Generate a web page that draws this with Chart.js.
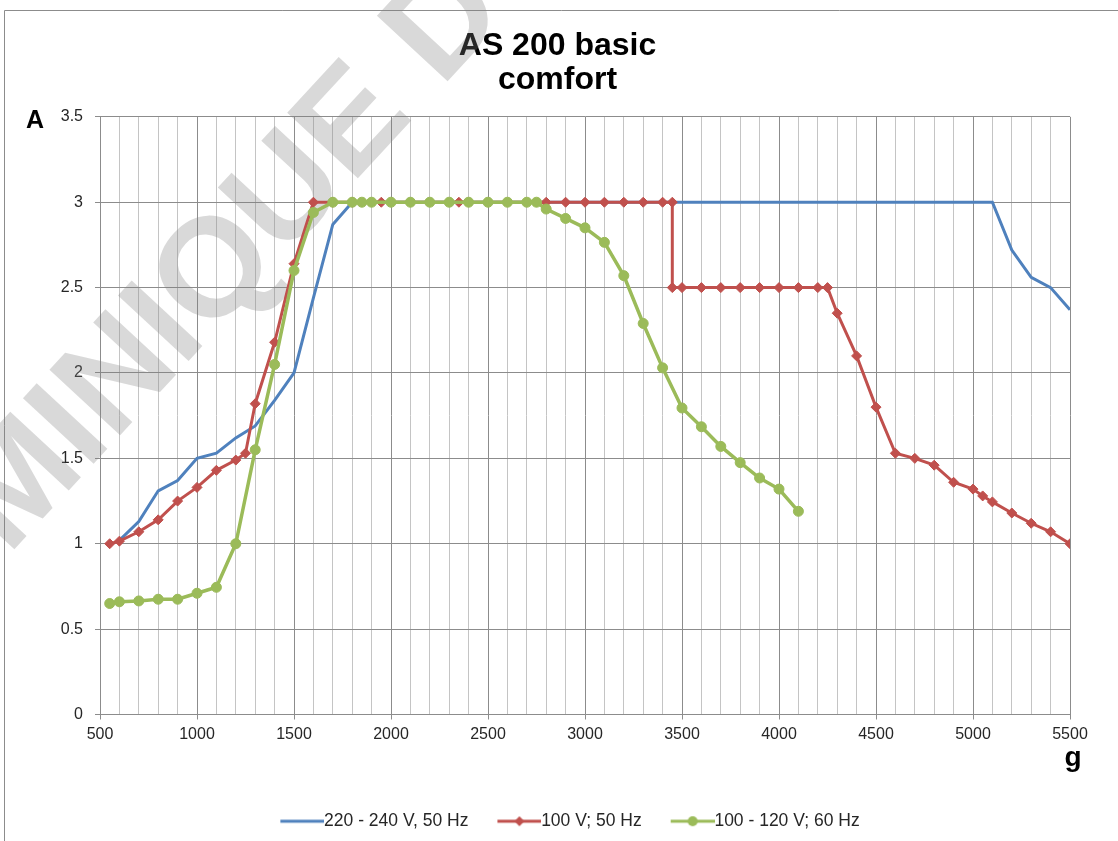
<!DOCTYPE html>
<html>
<head>
<meta charset="utf-8">
<script src="https://cdn.jsdelivr.net/npm/chart.js@4.4.0/dist/chart.umd.min.js"></script>
<style>
	html, body { margin: 0; padding: 0; background: #fff; }
	#wrap { position: relative; width: 1118px; height: 841px; }
</style>
</head>
<body>
<div id="wrap"><canvas id="chart" width="1118" height="841"></canvas></div>
<script>
// --- Data ---
const seriesNames = ["220 - 240 V, 50 Hz", "100 V; 50 Hz", "100 - 120 V; 60 Hz"];
const seriesColors = ["#4f81bd", "#c0504d", "#9bbb59"];

const euroX = [600, 700, 800, 900, 1000, 1100, 1200, 1300, 1400, 1500, 1600, 1700, 1800, 5100, 5200, 5300, 5400, 5500];
const euroY = [1.02, 1.13, 1.31, 1.37, 1.50, 1.53, 1.62, 1.69, 1.84, 2.0, 2.44, 2.87, 3.0, 3.0, 2.72, 2.56, 2.50, 2.37];

const jpX = [550, 600, 700, 800, 900, 1000, 1100, 1200, 1250, 1300, 1400, 1500, 1600, 1700, 1800, 1950, 2350,
	2800, 2900, 3000, 3100, 3200, 3300, 3400, 3450, 3450, 3500, 3600, 3700, 3800, 3900, 4000, 4100, 4200, 4250,
	4300, 4400, 4500, 4600, 4700, 4800, 4900, 5000, 5050, 5100, 5200, 5300, 5400, 5500];
const jpY = [1.0, 1.015, 1.07, 1.14, 1.25, 1.33, 1.43, 1.49, 1.53, 1.82, 2.18, 2.64, 3.0, 3.0, 3.0, 3.0, 3.0,
	3.0, 3.0, 3.0, 3.0, 3.0, 3.0, 3.0, 3.0, 2.5, 2.5, 2.5, 2.5, 2.5, 2.5, 2.5, 2.5, 2.5, 2.5,
	2.35, 2.10, 1.80, 1.53, 1.50, 1.46, 1.36, 1.32, 1.28, 1.245, 1.18, 1.12, 1.07, 1.0];

const usX = [550, 600, 700, 800, 900, 1000, 1100, 1200, 1300, 1400, 1500, 1600, 1700, 1800, 1850, 1900, 2000,
	2100, 2200, 2300, 2400, 2500, 2600, 2700, 2750, 2800, 2900, 3000, 3100, 3200, 3300, 3400, 3500, 3600,
	3700, 3800, 3900, 4000, 4100];
const usY = [0.65, 0.66, 0.665, 0.675, 0.675, 0.71, 0.745, 1.0, 1.55, 2.05, 2.60, 2.94, 3.0, 3.0, 3.0, 3.0, 3.0,
	3.0, 3.0, 3.0, 3.0, 3.0, 3.0, 3.0, 3.0, 2.96, 2.905, 2.85, 2.765, 2.57, 2.29, 2.03, 1.795, 1.685,
	1.57, 1.475, 1.385, 1.32, 1.19];

const titleLines = ["AS 200 basic", "comfort"];
const yUnit = "A";
const xUnit = "g";
const watermarkText = "DOMINIQUE D";

function toPoints(xs, ys) {
	return xs.map((x, i) => ({ x: x, y: ys[i] }));
}

// Legend pictures: line + marker, only in the right 44px so the
// wider legend box leaves a gap before each item
const legendBoxWidth = 60;
const legendFontSize = 17.5;
function legendIcon(color, marker) {
	const c = document.createElement("canvas");
	c.width = Math.round(legendBoxWidth + legendFontSize);
	c.height = 14;
	const g = c.getContext("2d");
	const x0 = c.width - 44;
	const mid = c.width - 22;
	g.strokeStyle = color;
	g.lineWidth = 3;
	g.beginPath();
	g.moveTo(x0, 7);
	g.lineTo(c.width, 7);
	g.stroke();
	g.fillStyle = color;
	if (marker === "diamond") {
		g.beginPath();
		g.moveTo(mid, 2);
		g.lineTo(mid + 5, 7);
		g.lineTo(mid, 12);
		g.lineTo(mid - 5, 7);
		g.closePath();
		g.fill();
	} else if (marker === "circle") {
		g.beginPath();
		g.arc(mid, 7, 5, 0, Math.PI * 2);
		g.fill();
	}
	return c;
}
const legendIcons = [
	legendIcon(seriesColors[0], null),
	legendIcon(seriesColors[1], "diamond"),
	legendIcon(seriesColors[2], "circle"),
];

const sansFont = "'Liberation Sans', Arial, sans-serif";

// frame, watermark and unit letters
const decorPlugin = {
	id: "decor",
	beforeDraw(chart) {
		const ctx = chart.ctx;
		ctx.save();
		ctx.fillStyle = "#fff";
		ctx.fillRect(0, 0, chart.width, chart.height);
		ctx.strokeStyle = "#8c8c8c";
		ctx.lineWidth = 1;
		ctx.beginPath();
		ctx.moveTo(4.5, chart.height);
		ctx.lineTo(4.5, 10.5);
		ctx.lineTo(chart.width, 10.5);
		ctx.stroke();
		ctx.restore();
	},
	beforeDatasetsDraw(chart) {
		// grey watermark across the plot, under the curves
		const ctx = chart.ctx;
		ctx.save();
		ctx.font = "bold 140px " + sansFont;
		ctx.fillStyle = "rgba(128,128,128,0.3)";
		ctx.translate(8, 556);
		ctx.rotate(-47.2 * Math.PI / 180);
		ctx.textBaseline = "alphabetic";
		ctx.fillText(watermarkText, -ctx.measureText("DO").width, 0);
		ctx.restore();
	},
	afterDraw(chart) {
		const ctx = chart.ctx;
		const area = chart.chartArea;
		ctx.save();
		ctx.fillStyle = "#000";
		ctx.font = "bold 25px " + sansFont;
		ctx.textAlign = "left";
		ctx.textBaseline = "alphabetic";
		ctx.fillText(yUnit, 26, area.top + 11);
		ctx.font = "bold 28px " + sansFont;
		ctx.textAlign = "center";
		ctx.fillText(xUnit, area.right + 3, 766);
		ctx.restore();
	},
};

const ctx = document.getElementById("chart");

new Chart(ctx, {
	type: "line",
	data: {
		datasets: [
			{
				label: seriesNames[0],
				data: toPoints(euroX, euroY),
				borderColor: seriesColors[0],
				backgroundColor: seriesColors[0],
				borderWidth: 3,
				pointRadius: 0,
				order: 2,
			},
			{
				label: seriesNames[1],
				data: toPoints(jpX, jpY),
				borderColor: seriesColors[1],
				backgroundColor: seriesColors[1],
				borderWidth: 3,
				pointStyle: "rectRot",
				pointRadius: 5,
				pointBorderWidth: 1,
				order: 1,
			},
			{
				label: seriesNames[2],
				data: toPoints(usX, usY),
				borderColor: seriesColors[2],
				backgroundColor: seriesColors[2],
				borderWidth: 3.5,
				pointStyle: "circle",
				pointRadius: 5,
				pointBorderWidth: 1,
				order: 0,
			},
		],
	},
	options: {
		responsive: false,
		animation: false,
		layout: {
			padding: { top: 29, left: 45, right: 48, bottom: 1 },
		},
		elements: {
			line: { tension: 0 },
		},
		plugins: {
			title: {
				display: true,
				text: titleLines,
				color: "#000",
				font: { family: sansFont, size: 32, weight: "bold", lineHeight: 1.06 },
				padding: { top: 0, bottom: 20 },
			},
			legend: {
				position: "bottom",
				labels: {
					usePointStyle: true,
					pointStyleWidth: legendBoxWidth,
					padding: 4,
					color: "#262626",
					font: { family: sansFont, size: legendFontSize },
					generateLabels: (chart) =>
						chart.data.datasets.map((ds, i) => ({
							text: ds.label,
							pointStyle: legendIcons[i],
							fillStyle: ds.borderColor,
							strokeStyle: ds.borderColor,
							lineWidth: 0,
							hidden: !chart.isDatasetVisible(i),
							datasetIndex: i,
							fontColor: "#262626",
						})),
				},
			},
			tooltip: { enabled: false },
		},
		scales: {
			x: {
				type: "linear",
				min: 500,
				max: 5500,
				afterFit: function (scale) {
					scale.height = 94;
				},
				ticks: {
					stepSize: 100,
					autoSkip: false,
					maxRotation: 0,
					padding: 5,
					color: "#262626",
					font: { family: sansFont, size: 16 },
					callback: function (value) {
						return value % 500 === 0 ? String(value) : "";
					},
				},
				grid: {
					color: (c) => (c.tick && c.tick.value % 500 === 0 ? "#8c8c8c" : "#c4c4c4"),
					tickColor: (c) => (c.tick && c.tick.value % 500 === 0 ? "#8c8c8c" : "rgba(0,0,0,0)"),
					tickLength: 5,
				},
				border: { color: "#8c8c8c" },
			},
			y: {
				min: 0,
				max: 3.5,
				afterFit: function (scale) {
					scale.width = 55;
				},
				ticks: {
					stepSize: 0.5,
					padding: 12,
					color: "#262626",
					font: { family: sansFont, size: 16 },
					callback: function (value) {
						return String(value);
					},
				},
				grid: {
					color: "#8c8c8c",
					tickLength: 5,
				},
				border: { color: "#8c8c8c" },
			},
		},
	},
	plugins: [decorPlugin],
});
</script>
</body>
</html>
